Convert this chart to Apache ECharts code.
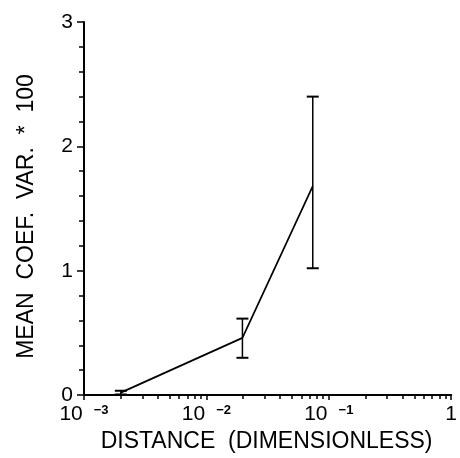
<!DOCTYPE html>
<html>
<head>
<meta charset="utf-8">
<script src="https://cdn.jsdelivr.net/npm/echarts@6/dist/echarts.min.js"></script>
<style>
html,body{margin:0;padding:0;background:#fff;}
#chart{width:460px;height:458px;}
</style>
</head>
<body>
<div id="chart"></div>
<script>
// Data
var distances = [0.002, 0.0197, 0.074];
var meanCoefVar = [0.02, 0.46, 1.68];
var errLow = [0.005, 0.30, 1.02];
var errHigh = [0.035, 0.615, 2.40];
var minorTickValues = [0.002,0.003,0.004,0.005,0.006,0.007,0.008,0.009,
                       0.02,0.03,0.04,0.05,0.06,0.07,0.08,0.09,
                       0.2,0.3,0.4,0.5,0.6,0.7,0.8,0.9];
var xName = 'DISTANCE  (DIMENSIONLESS)';
var yName = 'MEAN  COEF.  VAR.  *  100';

var FONT = 'Liberation Sans';
var lineData = distances.map(function(d, i){ return [d, meanCoefVar[i]]; });
var errData = distances.map(function(d, i){ return [d, errLow[i], errHigh[i]]; });

var chart = echarts.init(document.getElementById('chart'), null, {renderer: 'canvas'});
chart.setOption({
  animation: false,
  backgroundColor: '#fff',
  grid: {left: 84, right: 1, top: 22, bottom: 57, containLabel: false},
  xAxis: [{
    type: 'log', logBase: 10, min: 0.001, max: 1,
    position: 'bottom',
    name: xName, nameLocation: 'middle', nameGap: 26,
    nameTextStyle: {fontFamily: FONT, fontSize: 23, color: '#000', padding: [0, 2, 0, 0]},
    axisLine: {show: true, onZero: false, lineStyle: {color: '#000', width: 2}},
    axisTick: {show: true, inside: false, length: 5, lineStyle: {color: '#000', width: 1.5}},
    splitLine: {show: false},
    axisLabel: {
      show: true, margin: 9, showMinLabel: true, showMaxLabel: true,
      formatter: function(v){
        var p = Math.round(Math.log10(v));
        if (p === 0) return '{n|1}';
        return '{n|10}{s|\u2212' + (-p) + '}';
      },
      rich: {
        n: {fontFamily: FONT, fontSize: 21, color: '#000', lineHeight: 21},
        s: {fontFamily: FONT, fontSize: 13, fontWeight: 'bold', color: '#000', verticalAlign: 'top', padding: [0, 0, 0, 11]}
      }
    }
  }, {
    type: 'log', logBase: 10, min: 0.001, max: 1,
    position: 'bottom',
    axisLine: {show: false, onZero: false},
    axisTick: {show: true, inside: false, length: 4, customValues: minorTickValues, lineStyle: {color: '#000', width: 1.5}},
    axisLabel: {show: false},
    splitLine: {show: false}
  }],
  yAxis: {
    type: 'value', min: 0, max: 3, interval: 1,
    name: yName, nameLocation: 'middle', nameGap: 46, nameRotate: 90,
    nameTextStyle: {fontFamily: FONT, fontSize: 23, color: '#000', padding: [0, 16, 0, 0]},
    axisLine: {show: true, lineStyle: {color: '#000', width: 2}},
    axisTick: {show: true, inside: false, length: 7, lineStyle: {color: '#000', width: 1.5}},
    minorTick: {show: true, splitNumber: 5, length: 5, lineStyle: {color: '#000', width: 1.5}},
    splitLine: {show: false},
    axisLabel: {margin: 11, fontFamily: FONT, fontSize: 21, color: '#000'}
  },
  series: [{
    type: 'line',
    data: lineData,
    symbol: 'none',
    lineStyle: {color: '#000', width: 1.7},
    z: 3
  }, {
    type: 'custom',
    data: errData,
    encode: {x: 0, y: [1, 2]},
    renderItem: function(params, api){
      var x = api.value(0);
      var lo = api.coord([x, api.value(1)]);
      var hi = api.coord([x, api.value(2)]);
      var hw = 6;
      var style = {stroke: '#000', lineWidth: 2, fill: null};
      return {
        type: 'group',
        children: [
          {type: 'line', shape: {x1: lo[0], y1: lo[1], x2: hi[0], y2: hi[1]}, style: {stroke: '#000', lineWidth: 1.5}},
          {type: 'line', shape: {x1: lo[0]-hw, y1: lo[1], x2: lo[0]+hw, y2: lo[1]}, style: style},
          {type: 'line', shape: {x1: hi[0]-hw, y1: hi[1], x2: hi[0]+hw, y2: hi[1]}, style: style}
        ]
      };
    },
    z: 4
  }]
});
</script>
</body>
</html>
